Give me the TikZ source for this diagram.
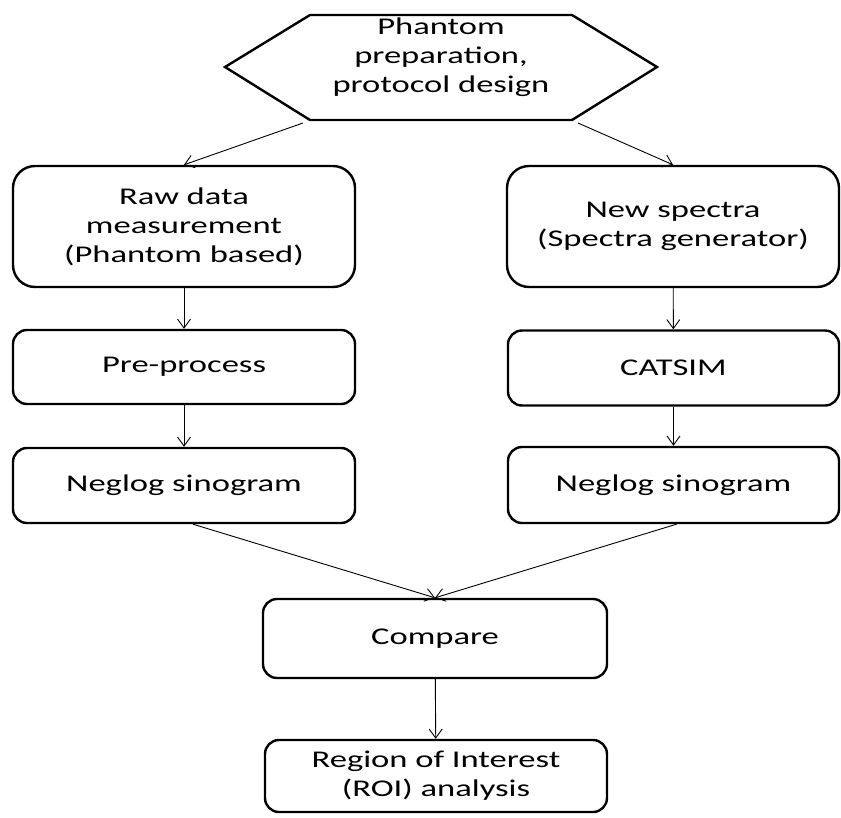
\documentclass[tikz,border=0pt]{standalone}
\usepackage{fontspec}
\setmainfont{Carlito}[FakeStretch=1.44]
\usetikzlibrary{arrows.meta,calc}
\begin{document}
\begin{tikzpicture}[x=1pt,y=-1pt,
  txt/.style={align=center, inner sep=0pt, font=\fontsize{24}{29}\selectfont},
  box/.style={txt, draw, line width=2.4pt, rounded corners=14pt},
  bigbox/.style={box, rounded corners=22pt},
  conn/.style={line width=0.9pt, -{Straight Barb[length=9pt,width=13pt,line width=0.9pt]}}
]
\useasboundingbox (0,0) rectangle (841,817);
% hexagon
\draw[line width=2.4pt] (225,67) -- (310,15) -- (572,15) -- (657,67) -- (572,120) -- (310,120) -- cycle;
\node[txt] (hex) at (441,57) {Phantom\\preparation,\\protocol design};
\coordinate (hexbl) at (303,123);
\coordinate (hexbr) at (578,123);

\node[bigbox, minimum width=342pt, minimum height=121pt] (raw) at (184,226.5) {Raw data\\measurement\\(Phantom based)};
\node[bigbox, minimum width=332pt, minimum height=121pt] (newsp) at (673,226.5) {New spectra\\(Spectra generator)};
\node[box, minimum width=342pt, minimum height=74pt] (pre) at (184,367) {Pre-process};
\node[box, minimum width=331pt, minimum height=75pt] (cat) at (673.5,368) {CATSIM};
\node[box, minimum width=342pt, minimum height=75pt] (neg1) at (184,485.5) {Neglog sinogram};
\node[box, minimum width=331pt, minimum height=76pt] (neg2) at (673.5,485) {Neglog sinogram};
\node[box, minimum width=344pt, minimum height=79pt] (cmp) at (435,638.5) {Compare};
\node[box, minimum width=342pt, minimum height=72pt] (roi) at (436,776) {Region of Interest\\(ROI) analysis};

\draw[conn] (hexbl) -- (raw.north);
\draw[conn] (hexbr) -- (newsp.north);
\draw[conn] (raw) -- (pre);
\draw[conn] (newsp) -- (cat);
\draw[conn] (pre) -- (neg1);
\draw[conn] (cat) -- (neg2);
\draw[conn] ($(neg1.south)+(9,0)$) -- (cmp.north);
\draw[conn] ($(neg2.south)+(3,0)$) -- (cmp.north);
\draw[conn] (cmp) -- (roi);
\end{tikzpicture}
\end{document}
